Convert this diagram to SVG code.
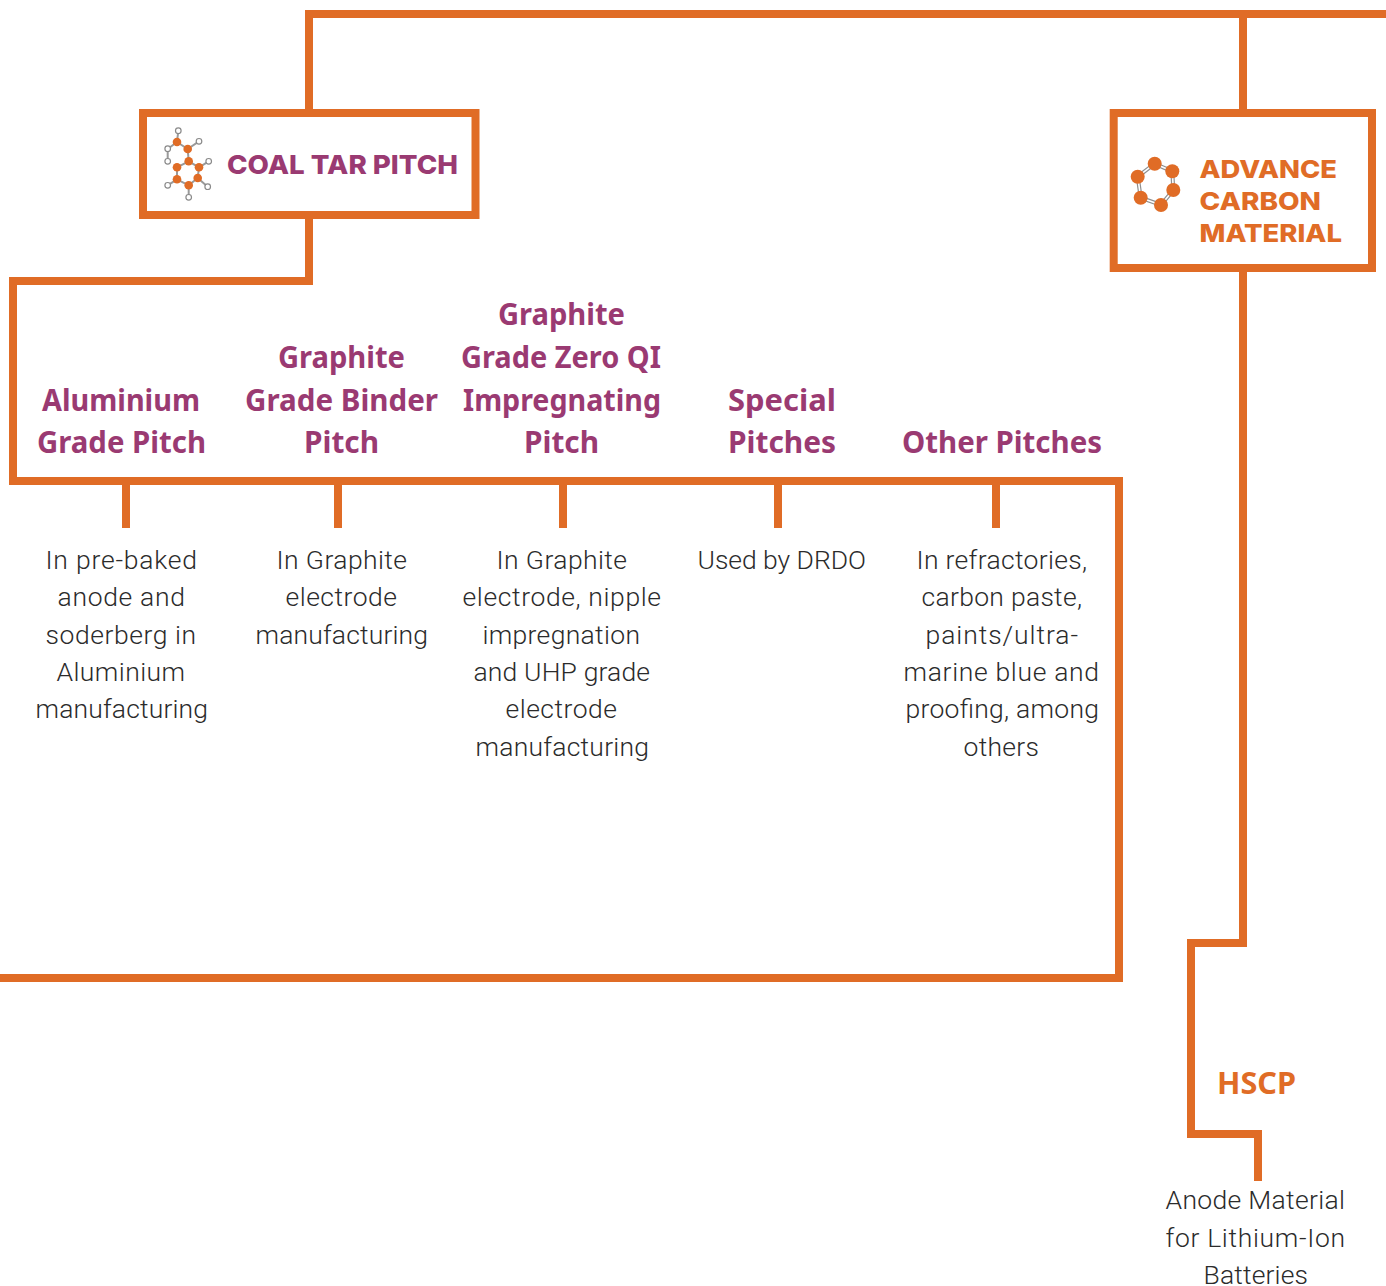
<svg xmlns="http://www.w3.org/2000/svg" width="1386" height="1286" viewBox="0 0 1386 1286">
<style>
.c{fill:none;stroke:#e06c26;stroke-width:8;stroke-linecap:square;stroke-linejoin:miter}
.box{fill:#fff;stroke:#e06c26;stroke-width:8}
.h{font-family:"Noto Sans","Open Sans",sans-serif;font-weight:700;font-size:31px;fill:#9a3a72}
.b{font-family:"Roboto","Open Sans",sans-serif;font-weight:300;font-size:26.500px;fill:#2b2b2b}
.t{font-family:"Inter","Liberation Sans",sans-serif;font-weight:800}
.o{fill:#e06c26}
.w{fill:#fff;stroke:#8a8a8a;stroke-width:1.200}
.g{stroke:#9a9a9a;stroke-width:2;fill:none}
.d1{stroke:#8f8f8f;stroke-width:4;fill:none}
.d2{stroke:#fff;stroke-width:1.600;fill:none}
</style>
<rect width="1386" height="1286" fill="#fff"/>
<g id="connectors">
<path class="c" d="M1382 14H309V110"/>
<path class="c" d="M1243 14V110"/>
<path class="c" d="M309 219V281H13V481H1119V978H-8"/>
<path class="c" d="M126 481V524M338 481V524M563 481V524M778 481V524M996 481V524"/>
<path class="c" d="M1243 272V943H1191V1134H1258V1177"/>
</g>
<g id="coal-tar-pitch">
<rect class="box" x="143" y="113" width="332.500" height="102"/>
<path class="g" d="M178.300 131L177 142L187.700 149L188.700 161.300L199 167.300L197.700 178L188.700 185.300L177 179.300V167.300L188.700 161.300M177 142L167.700 149V161.300M187.700 149L199 141.300M199 167.300L208.700 161.300M197.700 178L207.700 186.700M188.700 185.300V197.300M177 179.300L167.700 185.300"/>
<circle class="o" cx="177" cy="142" r="4.300"/><circle class="o" cx="187.700" cy="149" r="4.300"/><circle class="o" cx="188.700" cy="161.300" r="4.300"/><circle class="o" cx="199" cy="167.300" r="4.300"/><circle class="o" cx="197.700" cy="178" r="4.300"/><circle class="o" cx="188.700" cy="185.300" r="4.300"/><circle class="o" cx="177" cy="179.300" r="4.300"/><circle class="o" cx="177" cy="167.300" r="4.300"/>
<circle class="w" cx="178.300" cy="130.700" r="2.800"/><circle class="w" cx="199" cy="141.300" r="2.800"/><circle class="w" cx="167.700" cy="148.700" r="2.800"/><circle class="w" cx="167.700" cy="161.300" r="2.800"/><circle class="w" cx="208.700" cy="161.300" r="2.800"/><circle class="w" cx="207.700" cy="186.700" r="2.800"/><circle class="w" cx="188.700" cy="197.300" r="2.800"/><circle class="w" cx="167.700" cy="185.300" r="2.800"/>
<text class="t" x="227" y="174" font-size="26" fill="#9a3a72" textLength="231" lengthAdjust="spacingAndGlyphs">COAL TAR PITCH</text>
</g>
<g id="advance-carbon-material">
<rect class="box" x="1113.700" y="113" width="258.300" height="155"/>
<path class="d1" d="M1137.700 176.700L1154.700 163.700L1172.300 171.300L1173.300 190L1161 205L1140.700 197.700Z"/>
<path class="d2" d="M1137.700 176.700L1154.700 163.700L1172.300 171.300L1173.300 190L1161 205L1140.700 197.700Z"/>
<circle class="o" cx="1137.700" cy="176.700" r="7"/><circle class="o" cx="1154.700" cy="163.700" r="7"/><circle class="o" cx="1172.300" cy="171.300" r="7"/><circle class="o" cx="1173.300" cy="190" r="7"/><circle class="o" cx="1161" cy="205" r="7"/><circle class="o" cx="1140.700" cy="197.700" r="7"/>
<g class="t" fill="#e06c26" font-size="25">
<text x="1199.500" y="178" textLength="137.500" lengthAdjust="spacingAndGlyphs">ADVANCE</text>
<text x="1199.500" y="210" textLength="121.500" lengthAdjust="spacingAndGlyphs">CARBON</text>
<text x="1199.500" y="242" textLength="142.500" lengthAdjust="spacingAndGlyphs">MATERIAL</text>
</g>
</g>
<g id="aluminium">
<text class="h" x="42" y="411" textLength="158" lengthAdjust="spacingAndGlyphs">Aluminium</text><text class="h" x="37" y="453" textLength="169" lengthAdjust="spacingAndGlyphs">Grade Pitch</text>
<text class="b" x="45.500" y="569" textLength="151.500">In pre-baked</text><text class="b" x="57.500" y="606" textLength="127.500">anode and</text><text class="b" x="45.500" y="644" textLength="150.500">soderberg in</text><text class="b" x="56.500" y="681" textLength="128.500">Aluminium</text><text class="b" x="35.500" y="718" textLength="172.500">manufacturing</text>
</g>
<g id="binder">
<text class="h" x="278" y="368" textLength="127" lengthAdjust="spacingAndGlyphs">Graphite</text><text class="h" x="245" y="411" textLength="193" lengthAdjust="spacingAndGlyphs">Grade Binder</text><text class="h" x="304" y="453" textLength="75" lengthAdjust="spacingAndGlyphs">Pitch</text>
<text class="b" x="276.500" y="569" textLength="130.500">In Graphite</text><text class="b" x="285.500" y="606" textLength="111.500">electrode</text><text class="b" x="255.500" y="644" textLength="172.500">manufacturing</text>
</g>
<g id="zero-qi">
<text class="h" x="498" y="325" textLength="127" lengthAdjust="spacingAndGlyphs">Graphite</text><text class="h" x="461" y="368" textLength="200" lengthAdjust="spacingAndGlyphs">Grade Zero QI</text><text class="h" x="463" y="411" textLength="198" lengthAdjust="spacingAndGlyphs">Impregnating</text><text class="h" x="524" y="453" textLength="75" lengthAdjust="spacingAndGlyphs">Pitch</text>
<text class="b" x="496.500" y="569" textLength="130.500">In Graphite</text><text class="b" x="462.500" y="606" textLength="198.500">electrode, nipple</text><text class="b" x="482.500" y="644" textLength="157.500">impregnation</text><text class="b" x="473.500" y="681" textLength="176.500">and UHP grade</text><text class="b" x="505.500" y="718" textLength="111.500">electrode</text><text class="b" x="475.500" y="756" textLength="173.500">manufacturing</text>
</g>
<g id="special">
<text class="h" x="728" y="411" textLength="108" lengthAdjust="spacingAndGlyphs">Special</text><text class="h" x="728" y="453" textLength="108" lengthAdjust="spacingAndGlyphs">Pitches</text>
<text class="b" x="697.500" y="569" textLength="168.500">Used by DRDO</text>
</g>
<g id="other">
<text class="h" x="902" y="453" textLength="200" lengthAdjust="spacingAndGlyphs">Other Pitches</text>
<text class="b" x="916.500" y="569" textLength="170.500">In refractories,</text><text class="b" x="921.500" y="606" textLength="160.500">carbon paste,</text><text class="b" x="925.500" y="644" textLength="152.500">paints/ultra-</text><text class="b" x="903.500" y="681" textLength="195.500">marine blue and</text><text class="b" x="905.500" y="718" textLength="193.500">proofing, among</text><text class="b" x="963.500" y="756" textLength="75.500">others</text>
</g>
<g id="hscp">
<text class="h" x="1217" y="1094" textLength="79" lengthAdjust="spacingAndGlyphs" style="fill:#e06c26">HSCP</text>
<text class="b" x="1165.500" y="1209" textLength="179.500">Anode Material</text><text class="b" x="1165.500" y="1247" textLength="179.500">for Lithium-Ion</text><text class="b" x="1203.500" y="1284" textLength="104.500">Batteries</text>
</g>
</svg>
